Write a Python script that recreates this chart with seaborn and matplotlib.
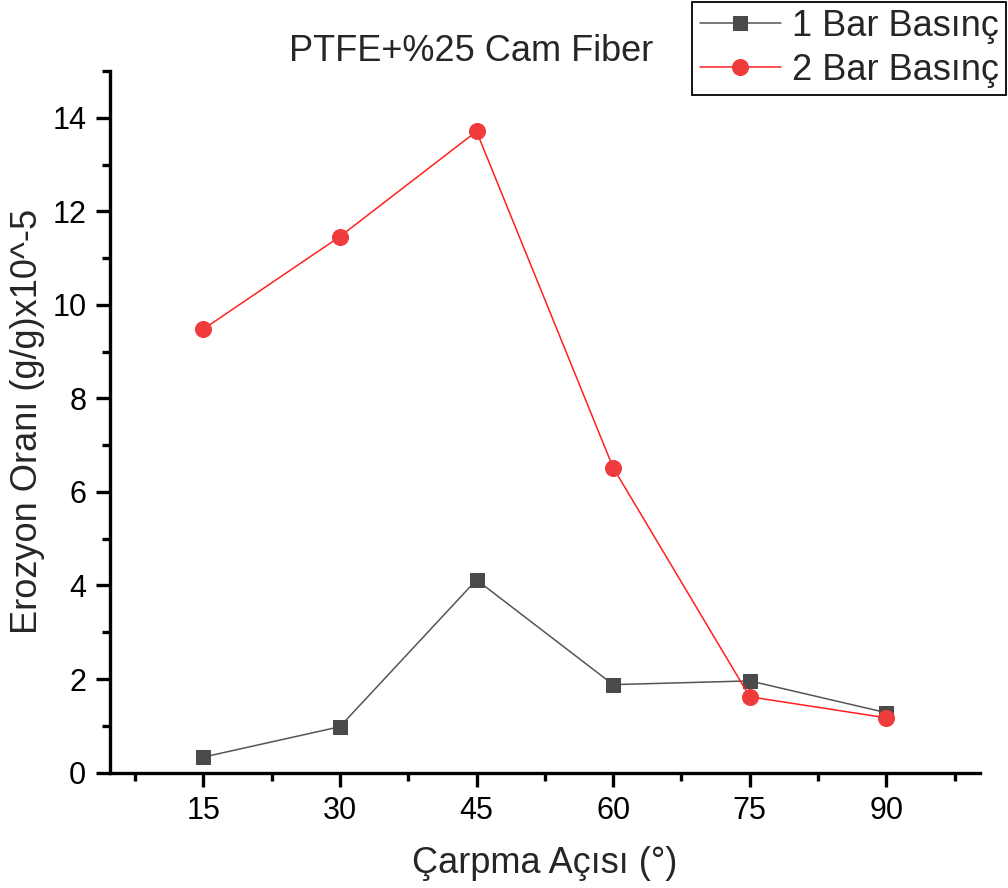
import numpy as np
import pandas as pd
import seaborn as sns
from matplotlib import pyplot as plt
from matplotlib.ticker import MultipleLocator

angles = [15, 30, 45, 60, 75, 90]
bar1 = [0.33, 0.98, 4.12, 1.88, 1.96, 1.28]
bar2 = [9.48, 11.46, 13.71, 6.52, 1.62, 1.17]
labels = ['1 Bar Basınç', '2 Bar Basınç']

sns.set_style('ticks')
plt.rcParams['font.family'] = ['Liberation Sans', 'DejaVu Sans']

fig = plt.figure(figsize=(10.08, 8.88), dpi=100)
ax = fig.add_axes([0.109, 0.13, 0.863, 0.79])

df1 = pd.DataFrame({'angle': angles, 'rate': bar1})
df2 = pd.DataFrame({'angle': angles, 'rate': bar2})

sns.lineplot(data=df1, x='angle', y='rate', ax=ax, color='#555555', linewidth=1.1,
             marker='s', markersize=10.5, markerfacecolor='#4a4a4a',
             markeredgecolor='#4a4a4a', label=labels[0])
sns.lineplot(data=df2, x='angle', y='rate', ax=ax, color='#ff2020', linewidth=1.1,
             marker='o', markersize=11.5, markerfacecolor='#ef3b3b',
             markeredgecolor='#ef3b3b', label=labels[1])

ax.set_xlim(4.75, 100.25)
ax.set_ylim(0, 15)
ax.xaxis.set_major_locator(MultipleLocator(15))
ax.xaxis.set_minor_locator(MultipleLocator(7.5))
ax.yaxis.set_major_locator(MultipleLocator(2))
ax.yaxis.set_minor_locator(MultipleLocator(1))
ax.set_xticks(angles)

for side in ['top', 'right']:
    ax.spines[side].set_visible(False)
for side in ['left', 'bottom']:
    ax.spines[side].set_linewidth(2.4)
    ax.spines[side].set_color('black')

ax.tick_params(which='major', direction='out', length=10, width=2.4, labelsize=22,
               colors='black', pad=7)
ax.tick_params(which='minor', direction='out', length=5.5, width=2.4, colors='black')

ax.set_xlabel('Çarpma Açısı (°)', fontsize=26, labelpad=14)
ax.set_ylabel('Erozyon Oranı (g/g)x10^-5', fontsize=26, labelpad=5)
fig.text(0.467, 0.942, 'PTFE+%25 Cam Fiber', ha='center', va='center', fontsize=26)

ax.get_legend().remove()
h, l = ax.get_legend_handles_labels()
leg = fig.legend(h, l, loc='upper right', bbox_to_anchor=(0.998, 0.998), fontsize=26,
                 frameon=True, fancybox=False, framealpha=1, edgecolor='black',
                 borderpad=0.2, labelspacing=0.25, handlelength=2.25, handletextpad=0.3,
                 borderaxespad=0)
leg.get_frame().set_linewidth(1.3)

fig.savefig('out.png', dpi=100)
